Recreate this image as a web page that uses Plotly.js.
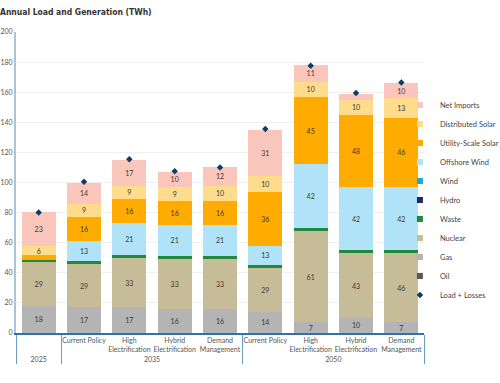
<!DOCTYPE html>
<html><head><meta charset="utf-8">
<script src="https://cdn.plot.ly/plotly-3.0.1.min.js"></script>
<style>html,body{margin:0;padding:0;background:#fff}#chart{width:500px;height:383px}</style>
</head><body><div id="chart"></div>
<script>
// Categories
const years = ["2025","2035","2035","2035","2035","2050","2050","2050","2050"];
const scenarios = [" ","Current Policy","High<br>Electrification","Hybrid<br>Electrification","Demand<br>Management",
                   "Current Policy","High<br>Electrification","Hybrid<br>Electrification","Demand<br>Management"];

// Series values (TWh), bottom of stack first
const oil         = [0, 0, 0, 0, 0, 0, 0, 0, 0];
const gas         = [18, 17, 17, 16, 16, 14, 7, 10, 7];
const nuclear     = [29, 29, 33, 33, 33, 29, 61, 43, 46];
const waste       = [1.5, 2, 2, 2, 2, 2, 2, 2, 2];
const hydro       = [0, 0, 0, 0, 0, 0, 0, 0, 0];
const wind        = [0, 0, 0, 0, 0, 0, 0, 0, 0];
const offshore    = [0, 13, 21, 21, 21, 13, 42, 42, 42];
const utilitySolar= [3, 16, 16, 16, 16, 36, 45, 48, 46];
const distSolar   = [6, 9, 9, 9, 10, 10, 10, 10, 13];
const netImports  = [23, 14, 17, 10, 12, 31, 11, 4, 10];
const loadLosses  = [80, 100.5, 115.5, 107.5, 110, 135.5, 177.5, 159.5, 166.5];

const series = [
  {name:"Oil", y:oil, color:"#595959", rank:10},
  {name:"Gas", y:gas, color:"#b4b4b4", rank:9},
  {name:"Nuclear", y:nuclear, color:"#c6bd98", rank:8},
  {name:"Waste", y:waste, color:"#1f8a3b", rank:7},
  {name:"Hydro", y:hydro, color:"#1b2a6b", rank:6},
  {name:"Wind", y:wind, color:"#1fa6e0", rank:5},
  {name:"Offshore Wind", y:offshore, color:"#b0e2f8", rank:4},
  {name:"Utility-Scale Solar", y:utilitySolar, color:"#ffab00", rank:3},
  {name:"Distributed Solar", y:distSolar, color:"#fedc8b", rank:2},
  {name:"Net Imports", y:netImports, color:"#fac6bb", rank:1}
];

const FONT = "Lato, 'Open Sans', sans-serif";
const TITLEFONT = "'DejaVu Sans Condensed', 'DejaVu Sans', sans-serif";
const x = [years, scenarios];

// stacked bars (legend entries are drawn by small square legend-only items below)
const data = series.map(s => ({
  type:"bar", name:s.name, x:x, y:s.y, legendgroup:s.name, showlegend:false,
  marker:{color:s.color, line:{width:0}},
  text:s.y.map(v => v >= 5 ? String(v) : ""),
  textposition:"inside", insidetextanchor:"middle", textangle:0,
  constraintext:"none",
  textfont:{family:FONT, size:7, color:"#3a3a3a"},
  hoverinfo:"skip"
}));
// legend-only square keys (no data)
series.forEach(s => data.push({
  type:"scatter", mode:"markers", name:s.name, legendgroup:s.name,
  x:[null], y:[null], showlegend:true, legendrank:s.rank,
  marker:{symbol:"square", size:6, color:s.color}, hoverinfo:"skip"
}));
data.push({
  type:"scatter", mode:"markers", name:"Load + Losses", x:x, y:loadLosses,
  marker:{symbol:"diamond", size:5, color:"#0d3d66"},
  legendrank:11, hoverinfo:"skip"
});

const layout = {
  width:500, height:383,
  margin:{l:16, r:76, t:32, b:50, autoexpand:false},
  barmode:"stack", bargap:0.25,
  paper_bgcolor:"#fff", plot_bgcolor:"#fff",
  font:{family:FONT, size:7, color:"#555"},
  title:{text:"Annual Load and Generation (TWh)", x:0, xref:"container", xanchor:"left",
         y:1-12/383, yref:"container", yanchor:"middle",
         font:{family:TITLEFONT, size:8.5, color:"#333", weight:"bold"}},
  xaxis:{type:"multicategory", showline:true, linecolor:"#3372a8", linewidth:1.5,
         showdividers:true, dividercolor:"#6d9cc0", dividerwidth:1, tickangle:0,
         tickfont:{family:FONT, size:7, color:"#555"}, showgrid:false, ticks:"", range:[-0.5,8.5]},
  yaxis:{range:[0,200], dtick:20, showgrid:true, gridcolor:"#efefef", gridwidth:1,
         showline:true, linecolor:"#aac5d9", linewidth:2, zeroline:false,
         tickfont:{family:FONT, size:7, color:"#555"}, ticks:""},
  legend:{x:0.941, xanchor:"left", y:0.442, yanchor:"middle",
          font:{family:FONT, size:7.5, color:"#444"}, traceorder:"normal", itemwidth:30,
          itemsizing:"trace", bgcolor:"rgba(0,0,0,0)"},
  showlegend:true
};

Plotly.newPlot("chart", data, layout, {displayModeBar:false, staticPlot:true});
</script>
</body></html>
